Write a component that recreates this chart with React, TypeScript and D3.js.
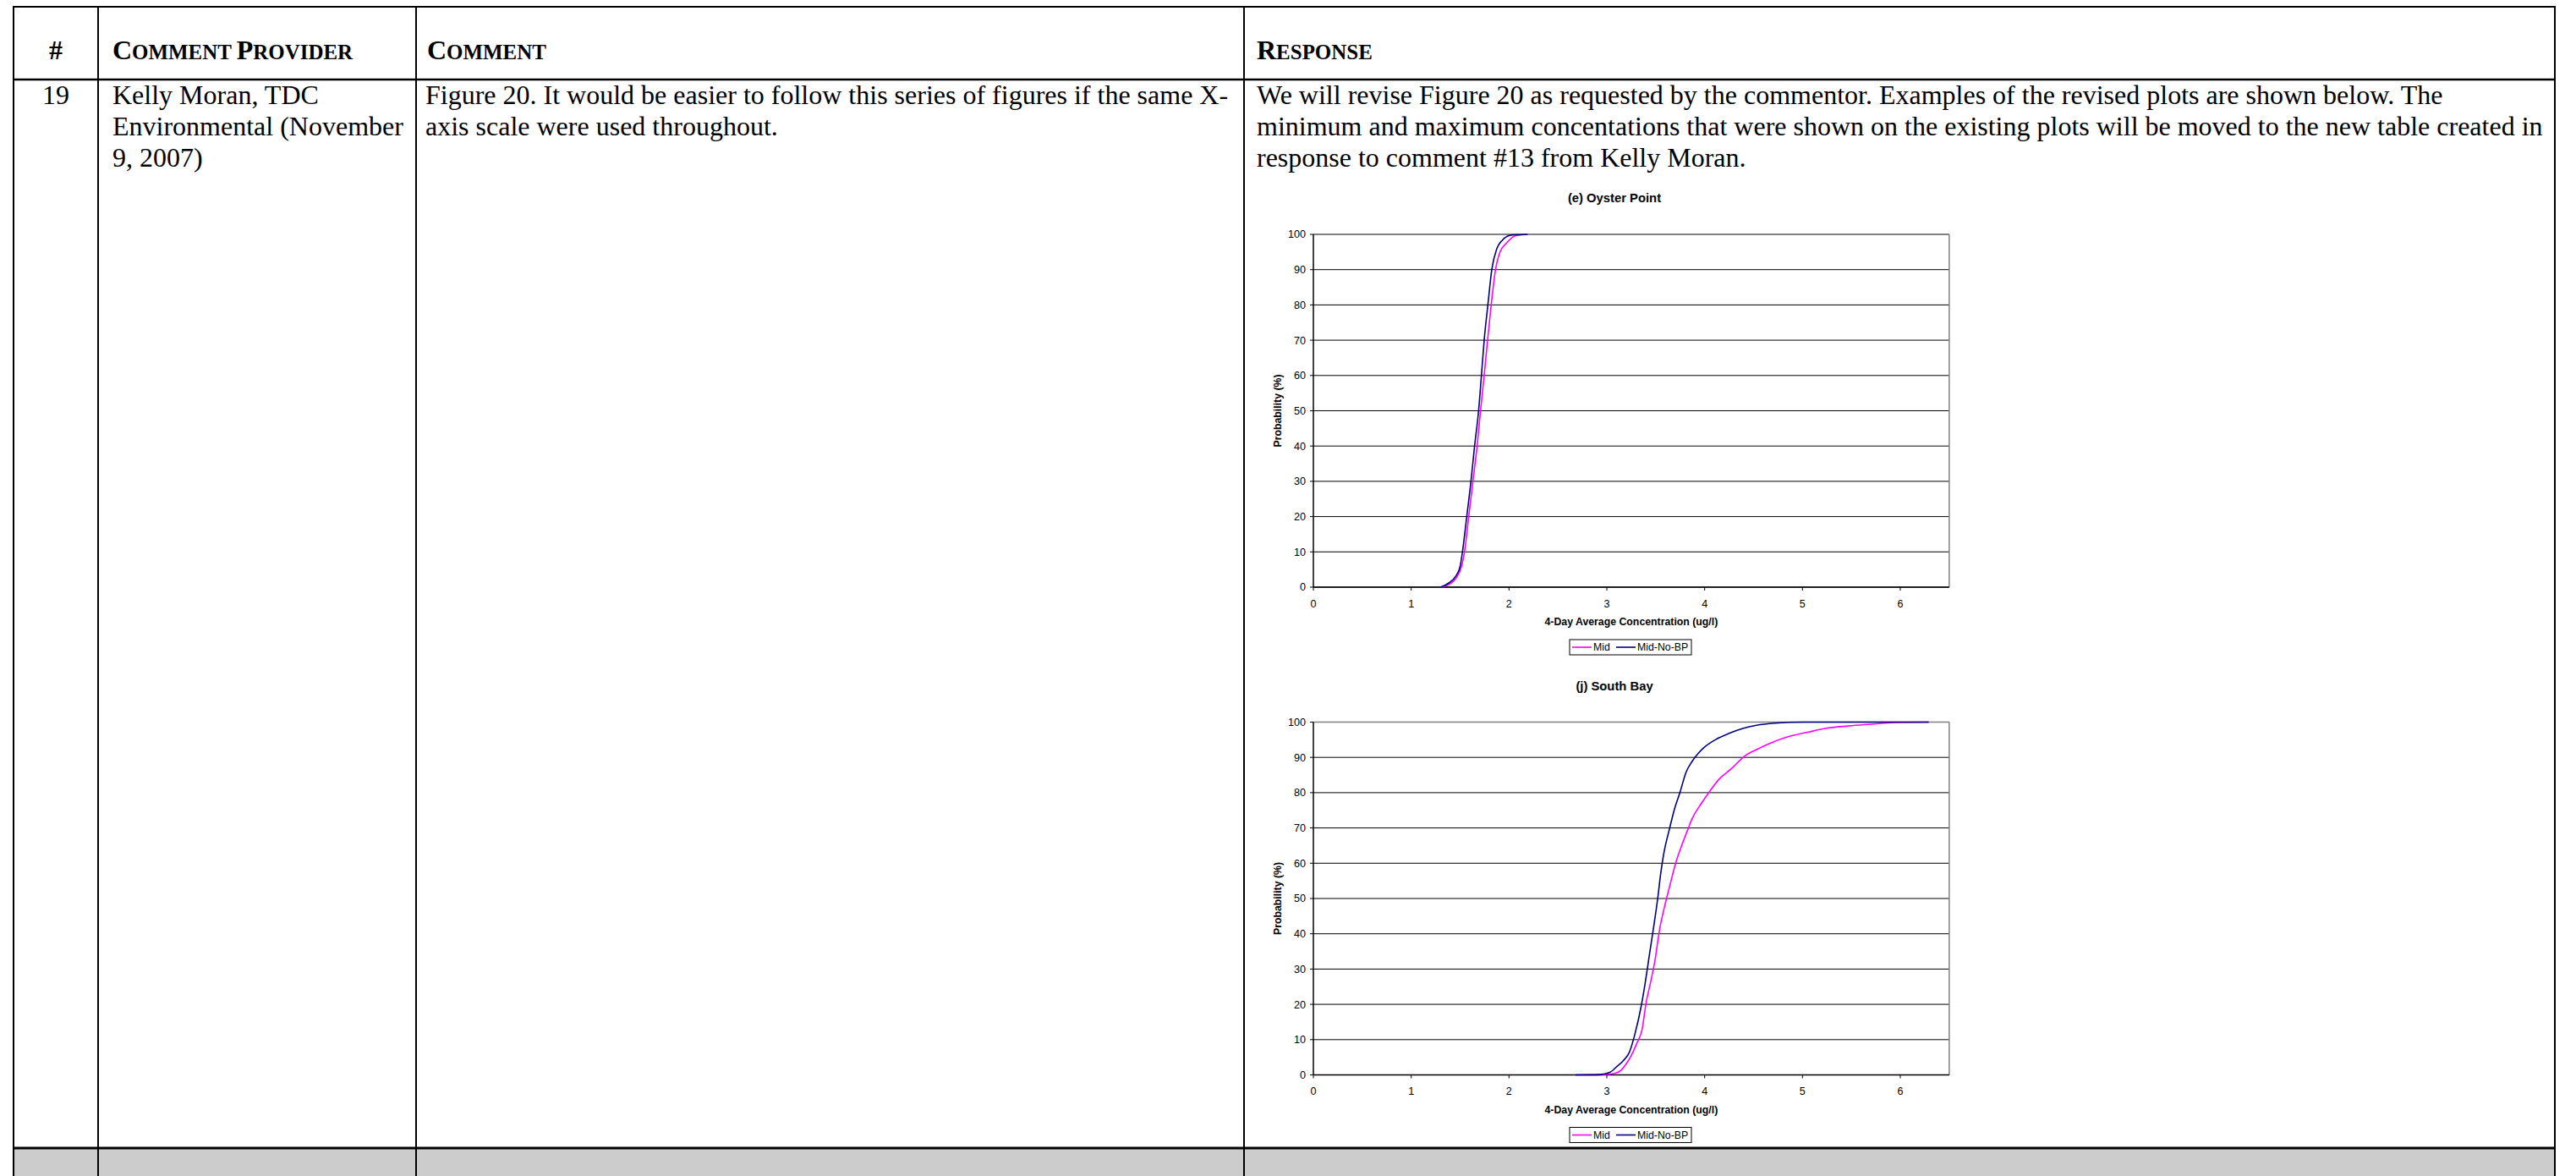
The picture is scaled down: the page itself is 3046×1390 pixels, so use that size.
import React, { useEffect } from 'react';
import * as d3 from 'd3';

// ---------- table text ----------
const rowNumber = '19';
const headerLabels = ['#', 'Comment Provider', 'Comment', 'Response'];
const providerLines = ['Kelly Moran, TDC', 'Environmental (November', '9, 2007)'];
const commentLines = [
  'Figure 20. It would be easier to follow this series of figures if the same X-',
  'axis scale were used throughout.',
];
const responseLines = [
  'We will revise Figure 20 as requested by the commentor. Examples of the revised plots are shown below. The',
  'minimum and maximum concentations that were shown on the existing plots will be moved to the new table created in',
  'response to comment #13 from Kelly Moran.',
];

// ---------- chart data ----------
const xTicks = [0, 1, 2, 3, 4, 5, 6];
const yTicks = [0, 10, 20, 30, 40, 50, 60, 70, 80, 90, 100];
const seriesNames = ['Mid', 'Mid-No-BP'];
const seriesColors = ['#FF00FF', '#000080'];

const oysterMidX = [1.3, 1.4, 1.458, 1.516, 1.545, 1.588, 1.631, 1.674, 1.709, 1.746, 1.781, 1.818, 1.862, 1.905, 1.977, 2.063, 2.19];
const oysterMidY = [0, 1, 2.5, 6, 10, 20, 30, 40, 50, 60, 70, 80, 90, 94.8, 97.6, 99.6, 100];
const oysterNoBPX = [1.3, 1.386, 1.458, 1.501, 1.524, 1.568, 1.611, 1.648, 1.689, 1.718, 1.746, 1.784, 1.824, 1.876, 1.934, 2.02, 2.19];
const oysterNoBPY = [0, 1.2, 3.2, 6, 10, 20, 30, 40, 50, 60, 70, 80, 90, 96, 98.4, 99.8, 100];

const southMidX = [2.68, 2.98, 3.08, 3.15, 3.19, 3.25, 3.31, 3.36, 3.4, 3.45, 3.49, 3.54, 3.59, 3.64, 3.71, 3.78, 3.83, 3.87, 3.97, 4.06, 4.15, 4.27, 4.41, 4.53, 4.67, 4.86, 5.05, 5.23, 5.47, 5.7, 5.94, 6.29];
const southMidY = [0, 0.1, 0.4, 1.4, 2.8, 5.5, 9.2, 12.8, 20.2, 26.6, 32.1, 41.3, 47.7, 53.2, 60.6, 66.1, 69.7, 72.5, 77.1, 80.7, 83.9, 86.7, 90.4, 92.2, 94.0, 95.9, 97.1, 98.2, 98.9, 99.4, 99.9, 100];
const southNoBPX = [2.68, 2.93, 3.03, 3.1, 3.17, 3.23, 3.29, 3.35, 3.39, 3.44, 3.48, 3.52, 3.55, 3.58, 3.64, 3.69, 3.75, 3.81, 3.87, 3.94, 3.99, 4.11, 4.25, 4.39, 4.53, 4.72, 5.0, 6.29];
const southNoBPY = [0, 0.1, 0.7, 2.3, 4.1, 6.4, 11.9, 19.3, 25.7, 34.9, 42.2, 50, 56.9, 62.4, 69.7, 75.2, 80.3, 85.8, 88.8, 91.3, 92.7, 95, 96.8, 98.2, 99.1, 99.7, 100, 100];

const serif = '"Liberation Serif", "Times New Roman", serif';
const sans = '"Liberation Sans", Arial, sans-serif';

function SmallCaps({ text, size, ratio }: { text: string; size: number; ratio: number }) {
  const words = text.split(' ');
  const parts: React.ReactNode[] = [];
  words.forEach((w, i) => {
    parts.push(<tspan key={i + 'a'} fontSize={size}>{w[0].toUpperCase()}</tspan>);
    parts.push(
      <tspan key={i + 'b'} fontSize={size * ratio}>
        {w.slice(1).toUpperCase() + (i < words.length - 1 ? ' ' : '')}
      </tspan>
    );
  });
  return <>{parts}</>;
}

type ChartProps = {
  top: number;
  title: string;
  xs: number[][];
  ys: number[][];
};

function Chart({ top, title, xs, ys }: ChartProps) {
  const left = 1553;
  const plotH = 417;
  const bottom = top + plotH;
  const x = d3.scaleLinear().domain([0, 6.5]).range([left, left + 6.5 * 115.67]);
  const y = d3.scaleLinear().domain([0, 100]).range([bottom, top]);
  const right = x(6.5);
  const line = d3
    .line<[number, number]>()
    .x((d) => x(d[0]))
    .y((d) => y(d[1]))
    .curve(d3.curveMonotoneX);
  const cx = (left + right) / 2;
  const legX = 1856;
  const legY = bottom + 62;
  return (
    <g>
      <text x={1909} y={top - 38} textAnchor="middle" fontFamily={sans} fontWeight="bold" fontSize={14.8}>
        {title}
      </text>
      {yTicks.map((t) => (
        <line key={'g' + t} x1={left} x2={right} y1={y(t)} y2={y(t)} stroke="#000" strokeWidth={1} />
      ))}
      <line x1={left} x2={right} y1={top} y2={top} stroke="#808080" strokeWidth={1.5} />
      <line x1={right} x2={right} y1={top} y2={bottom} stroke="#808080" strokeWidth={1.5} />
      <line x1={left} x2={left} y1={top} y2={bottom} stroke="#000" strokeWidth={1.5} />
      <line x1={left} x2={right} y1={bottom} y2={bottom} stroke="#000" strokeWidth={1.5} />
      {yTicks.map((t) => (
        <g key={'y' + t}>
          <line x1={left - 4} x2={left} y1={y(t)} y2={y(t)} stroke="#000" strokeWidth={1} />
          <text x={left - 9} y={y(t)} dy="0.35em" textAnchor="end" fontFamily={sans} fontSize={12.6}>
            {t}
          </text>
        </g>
      ))}
      {xTicks.map((t) => (
        <g key={'x' + t}>
          <line x1={x(t)} x2={x(t)} y1={bottom} y2={bottom + 4} stroke="#000" strokeWidth={1} />
          <text x={x(t)} y={bottom + 23.5} textAnchor="middle" fontFamily={sans} fontSize={12.6}>
            {t}
          </text>
        </g>
      ))}
      <text x={cx} y={bottom + 45} textAnchor="middle" fontFamily={sans} fontWeight="bold" fontSize={12.3}>
        4-Day Average Concentration (ug/l)
      </text>
      <text
        transform={`translate(${1515},${(top + bottom) / 2}) rotate(-90)`}
        textAnchor="middle"
        fontFamily={sans}
        fontWeight="bold"
        fontSize={12.3}
      >
        Probability (%)
      </text>
      {xs.map((xv, i) => (
        <path
          key={'s' + i}
          d={line(xv.map((v, j) => [v, ys[i][j]] as [number, number])) || ''}
          fill="none"
          stroke={seriesColors[i]}
          strokeWidth={1.6}
        />
      ))}
      <rect x={legX} y={legY} width={144} height={18} fill="#fff" stroke="#000" strokeWidth={1} />
      <line x1={legX + 3} x2={legX + 26} y1={legY + 9} y2={legY + 9} stroke={seriesColors[0]} strokeWidth={1.6} />
      <text x={legX + 28} y={legY + 9} dy="0.35em" fontFamily={sans} fontSize={12.3}>
        {seriesNames[0]}
      </text>
      <line x1={legX + 55} x2={legX + 78} y1={legY + 9} y2={legY + 9} stroke={seriesColors[1]} strokeWidth={1.6} />
      <text x={legX + 80} y={legY + 9} dy="0.35em" fontFamily={sans} fontSize={12.3}>
        {seriesNames[1]}
      </text>
    </g>
  );
}

export default function App() {
  useEffect(() => {
    document.body.style.margin = '0';
    document.body.style.overflow = 'hidden';
  }, []);
  const W = 3046;
  const H = 1390;
  const colX = [16, 116, 492, 1471, 3021];
  const topY = 8;
  const headY = 94;
  const rowBottom = 1357;
  const fs = 32;
  const lh = 36.8;
  const base1 = 123;
  const headBase = 70;
  return (
    <svg width={W} height={H} style={{ display: 'block', position: 'absolute', left: 0, top: 0 }}>
      <rect x={0} y={0} width={W} height={H} fill="#fff" />
      <rect x={colX[0]} y={rowBottom} width={colX[4] - colX[0]} height={H - rowBottom} fill="#cccccc" />
      {colX.map((cx, i) => (
        <line key={'v' + i} x1={cx} x2={cx} y1={topY - 1} y2={H} stroke="#000" strokeWidth={2} />
      ))}
      <line x1={colX[0] - 1} x2={colX[4] + 1} y1={topY} y2={topY} stroke="#000" strokeWidth={2.2} />
      <line x1={colX[0] - 1} x2={colX[4] + 1} y1={headY} y2={headY} stroke="#000" strokeWidth={2.5} />
      <line x1={colX[0] - 1} x2={colX[4] + 1} y1={rowBottom} y2={rowBottom} stroke="#000" strokeWidth={3} />

      <g fontFamily={serif} fontWeight="bold">
        <text x={(colX[0] + colX[1]) / 2} y={headBase} textAnchor="middle" fontSize={fs}>{headerLabels[0]}</text>
        <text x={133} y={headBase}>
          <SmallCaps text={headerLabels[1]} size={fs} ratio={0.78} />
        </text>
        <text x={505} y={headBase}>
          <SmallCaps text={headerLabels[2]} size={fs} ratio={0.78} />
        </text>
        <text x={1486} y={headBase}>
          <SmallCaps text={headerLabels[3]} size={fs} ratio={0.78} />
        </text>
      </g>

      <g fontFamily={serif} fontSize={fs}>
        <text x={(colX[0] + colX[1]) / 2} y={base1} textAnchor="middle">{rowNumber}</text>
        {providerLines.map((t, i) => (
          <text key={'p' + i} x={133} y={base1 + i * lh}>{t}</text>
        ))}
        {commentLines.map((t, i) => (
          <text key={'c' + i} x={503} y={base1 + i * lh}>{t}</text>
        ))}
        {responseLines.map((t, i) => (
          <text key={'r' + i} x={1486} y={base1 + i * lh}>{t}</text>
        ))}
      </g>

      <Chart top={277} title="(e) Oyster Point" xs={[oysterMidX, oysterNoBPX]} ys={[oysterMidY, oysterNoBPY]} />
      <Chart top={853.5} title="(j) South Bay" xs={[southMidX, southNoBPX]} ys={[southMidY, southNoBPY]} />
    </svg>
  );
}
